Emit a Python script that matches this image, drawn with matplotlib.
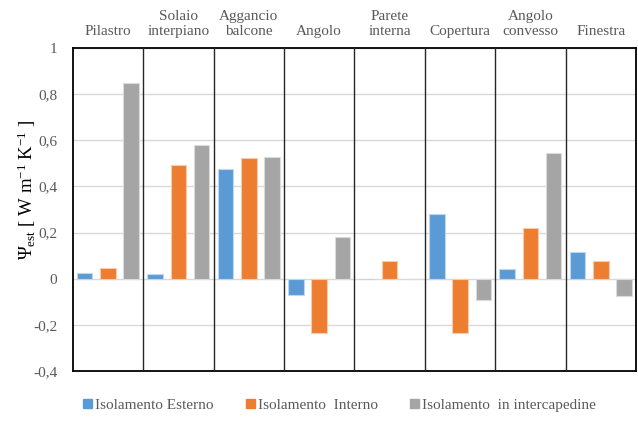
import matplotlib
matplotlib.use("Agg")
import matplotlib.pyplot as plt
from matplotlib.patches import Patch
from matplotlib.ticker import FuncFormatter
import numpy as np

plt.rcParams['font.family'] = ['Liberation Serif', 'DejaVu Serif']
plt.rcParams['mathtext.fontset'] = 'custom'
plt.rcParams['mathtext.rm'] = 'Liberation Serif'
plt.rcParams['mathtext.it'] = 'Liberation Serif:italic'
plt.rcParams['mathtext.bf'] = 'Liberation Serif:bold'

categories = ["Pilastro", "Solaio\ninterpiano", "Aggancio\nbalcone", "Angolo",
              "Parete\ninterna", "Copertura", "Angolo\nconvesso", "Finestra"]
series_names = ["Isolamento Esterno", "Isolamento  Interno", "Isolamento  in intercapedine"]
esterno = [0.026, 0.019, 0.476, -0.071, 0.0, 0.281, 0.042, 0.115]
interno = [0.048, 0.494, 0.522, -0.237, 0.077, -0.237, 0.219, 0.077]
intercapedine = [0.85, 0.579, 0.528, 0.18, 0.0, -0.094, 0.544, -0.075]
y_ticks = [-0.4, -0.2, 0, 0.2, 0.4, 0.6, 0.8, 1]

colors = ["#5B9BD5", "#ED7D31", "#A5A5A5"]
edges = ["#BDD7EE", "#F8CBAD", "#DBDBDB"]
text_grey = "#595959"

fig = plt.figure(figsize=(6.38, 4.23), dpi=100)
ax = fig.add_axes([0.114, 0.123, 0.883, 0.7635])

x = np.arange(len(categories))
offsets = [-0.33, 0.0, 0.33]
for vals, off, c, ec in zip([esterno, interno, intercapedine], offsets, colors, edges):
    ax.bar(x + off, vals, width=0.22, color=c, edgecolor=ec, linewidth=0.8, zorder=3)

ax.set_xlim(-0.5, len(categories) - 0.5)
ax.set_ylim(-0.4, 1.0)
ax.set_yticks(y_ticks)
ax.yaxis.set_major_formatter(FuncFormatter(
    lambda v, p: ("%g" % round(v, 1)).replace(".", ",")))
ax.grid(axis="y", color="#D9D9D9", linewidth=1.0, zorder=0)
ax.set_xticks([])
ax.tick_params(axis="y", length=0, labelsize=11, colors=text_grey, pad=11)

for s in ax.spines.values():
    s.set_color("black")
    s.set_linewidth(1.3)

for b in np.arange(0.5, len(categories) - 0.5, 1.0):
    ax.axvline(b, color="#262626", linewidth=1.0, zorder=4)

for xi, name in zip(x, categories):
    ax.text(xi, 1.03, name, transform=ax.get_xaxis_transform(), ha="center",
            va="bottom", fontsize=11, color=text_grey, linespacing=1.2,
            clip_on=False)

fig.text(0.042, 0.551,
         r"$\Psi_{\mathrm{est}}$ [ W m$^{\mathrm{-1}}$ K$^{\mathrm{-1}}$ ]",
         rotation=90, ha="center", va="center", fontsize=13.5, color="black")

handles = [Patch(facecolor=c, edgecolor=c) for c in colors]
fig.legend(handles, series_names, loc="center", bbox_to_anchor=(0.532, 0.042),
           ncol=3, frameon=False, fontsize=11, handlelength=0.6, handleheight=0.6,
           handletextpad=0.2, columnspacing=2.1, labelcolor=text_grey)

fig.savefig("out.png", dpi=100)
